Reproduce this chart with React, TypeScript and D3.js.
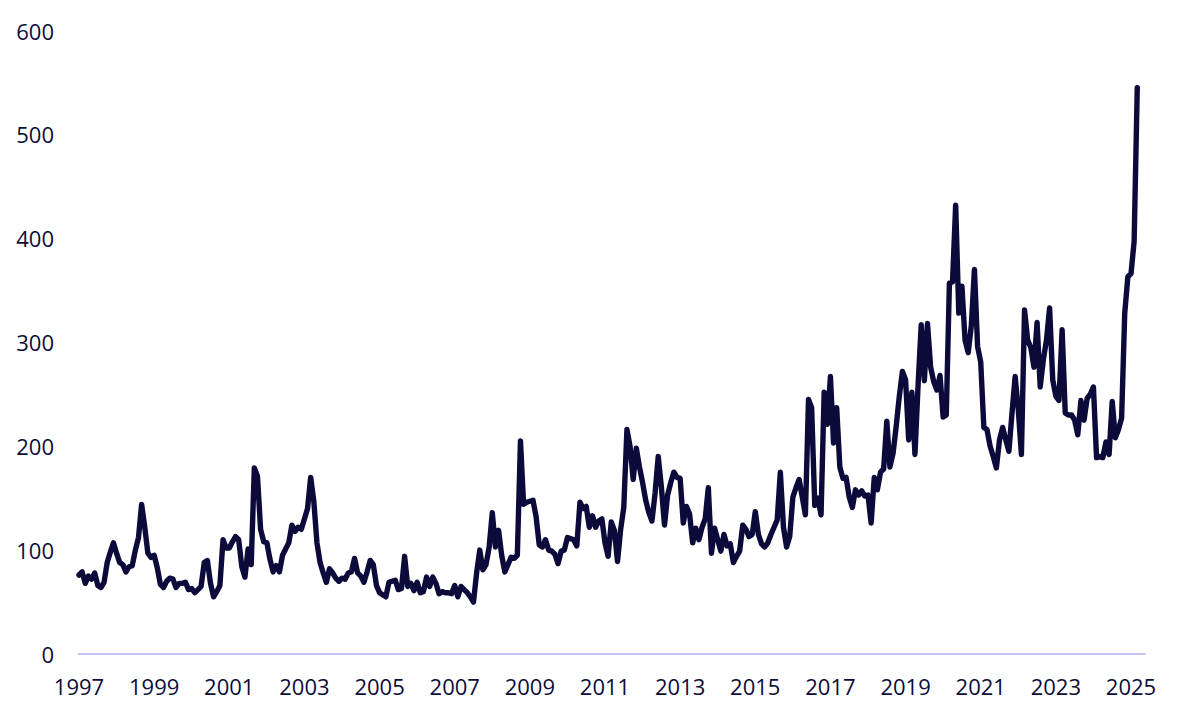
import React from "react";
import * as d3 from "d3";

// Monthly index values, January 1997 onwards
const startYear = 1997;

const values1997_2001 = [
  76, 79, 68, 75, 72, 78, 66, 64, 69, 88, 98, 107,
  97, 88, 86, 79, 84, 85, 100, 112, 144, 122, 97, 93,
  95, 83, 67, 64, 70, 73, 72, 64, 68, 68, 69, 62,
  63, 59, 62, 65, 88, 90, 68, 55, 60, 66, 110, 102,
  102, 108, 113, 110, 84, 74, 101, 86, 179, 171, 120, 108,
];

const values2002_2006 = [
  107, 91, 79, 85, 79, 95, 101, 107, 124, 118, 122, 120,
  130, 140, 170, 147, 107, 88, 78, 69, 82, 78, 73, 70,
  73, 72, 78, 79, 92, 78, 75, 69, 79, 90, 86, 66,
  59, 57, 55, 69, 70, 71, 62, 63, 94, 65, 68, 61,
  69, 59, 60, 74, 65, 74, 68, 58, 60, 59, 59, 58,
];

const values2007_2011 = [
  66, 55, 65, 62, 59, 55, 50, 78, 100, 81, 86, 103,
  136, 103, 119, 95, 79, 86, 93, 92, 95, 205, 144, 146,
  147, 148, 132, 105, 103, 110, 100, 99, 96, 87, 99, 100,
  112, 111, 110, 104, 146, 140, 142, 122, 133, 122, 128, 130,
  107, 94, 127, 119, 89, 120, 141, 216, 200, 168, 198, 180,
];

const values2012_2016 = [
  165, 148, 136, 128, 155, 190, 161, 124, 153, 165, 175, 170,
  169, 126, 142, 135, 107, 121, 110, 122, 130, 160, 97, 121,
  110, 99, 115, 104, 106, 88, 94, 99, 124, 120, 113, 115,
  137, 115, 106, 103, 107, 115, 122, 129, 175, 122, 103, 113,
  151, 160, 168, 151, 134, 245, 237, 143, 150, 134, 252, 221,
];

const values2017_2021 = [
  267, 203, 237, 180, 169, 170, 151, 141, 158, 153, 157, 152,
  153, 126, 170, 158, 175, 178, 224, 180, 193, 219, 248, 272,
  264, 206, 252, 192, 259, 317, 263, 318, 276, 262, 254, 268,
  228, 230, 357, 358, 432, 328, 354, 302, 290, 316, 370, 296,
  281, 218, 216, 200, 190, 179, 206, 218, 206, 195, 232, 267,
];

const values2022_2025 = [
  235, 192, 331, 302, 295, 276, 319, 257, 283, 302, 333, 264,
  248, 244, 312, 232, 230, 230, 225, 211, 244, 225, 246, 250,
  257, 189, 190, 189, 204, 192, 243, 208, 216, 227, 328, 363,
  366, 397, 545,
];

const yTicks = [0, 100, 200, 300, 400, 500, 600];
const xTickYears = [1997, 1999, 2001, 2003, 2005, 2007, 2009, 2011, 2013, 2015, 2017, 2019, 2021, 2023, 2025];

const series = [
  ...values1997_2001,
  ...values2002_2006,
  ...values2007_2011,
  ...values2012_2016,
  ...values2017_2021,
  ...values2022_2025,
];

const App: React.FC = () => {
  const width = 1200;
  const height = 718;
  const textColor = "#0d0c3b";
  const lineColor = "#0b0a3a";
  const font = "'Open Sans', 'Noto Sans', sans-serif";

  // x in months since Jan 1997
  const x = d3.scaleLinear().domain([0, 12 * 28]).range([79, 1131]);
  const y = d3.scaleLinear().domain([0, 600]).range([654, 30.5]);

  const line = d3
    .line<number>()
    .x((_, i) => x(i))
    .y((d) => y(d));

  return (
    <svg
      width={width}
      height={height}
      style={{ position: "absolute", left: 0, top: 0, background: "#fff" }}
      fontFamily={font}
    >
      {/* y tick labels */}
      {yTicks.map((t) => (
        <text
          key={t}
          x={54}
          y={y(t)}
          textAnchor="end"
          dominantBaseline="central"
          fontSize={22}
          fill={textColor}
        >
          {t}
        </text>
      ))}

      {/* x axis */}
      <line
        x1={x(-0.4)}
        x2={x(340.7)}
        y1={y(0)}
        y2={y(0)}
        stroke="#c4c4f6"
        strokeWidth={2}
      />
      {xTickYears.map((yr) => (
        <text
          key={yr}
          x={x((yr - startYear) * 12)}
          y={686}
          textAnchor="middle"
          dominantBaseline="central"
          fontSize={22}
          fill={textColor}
        >
          {yr}
        </text>
      ))}

      <path
        d={line(series) ?? ""}
        fill="none"
        stroke={lineColor}
        strokeWidth={5.4}
        strokeLinejoin="round"
        strokeLinecap="round"
      />
    </svg>
  );
};

export default App;
